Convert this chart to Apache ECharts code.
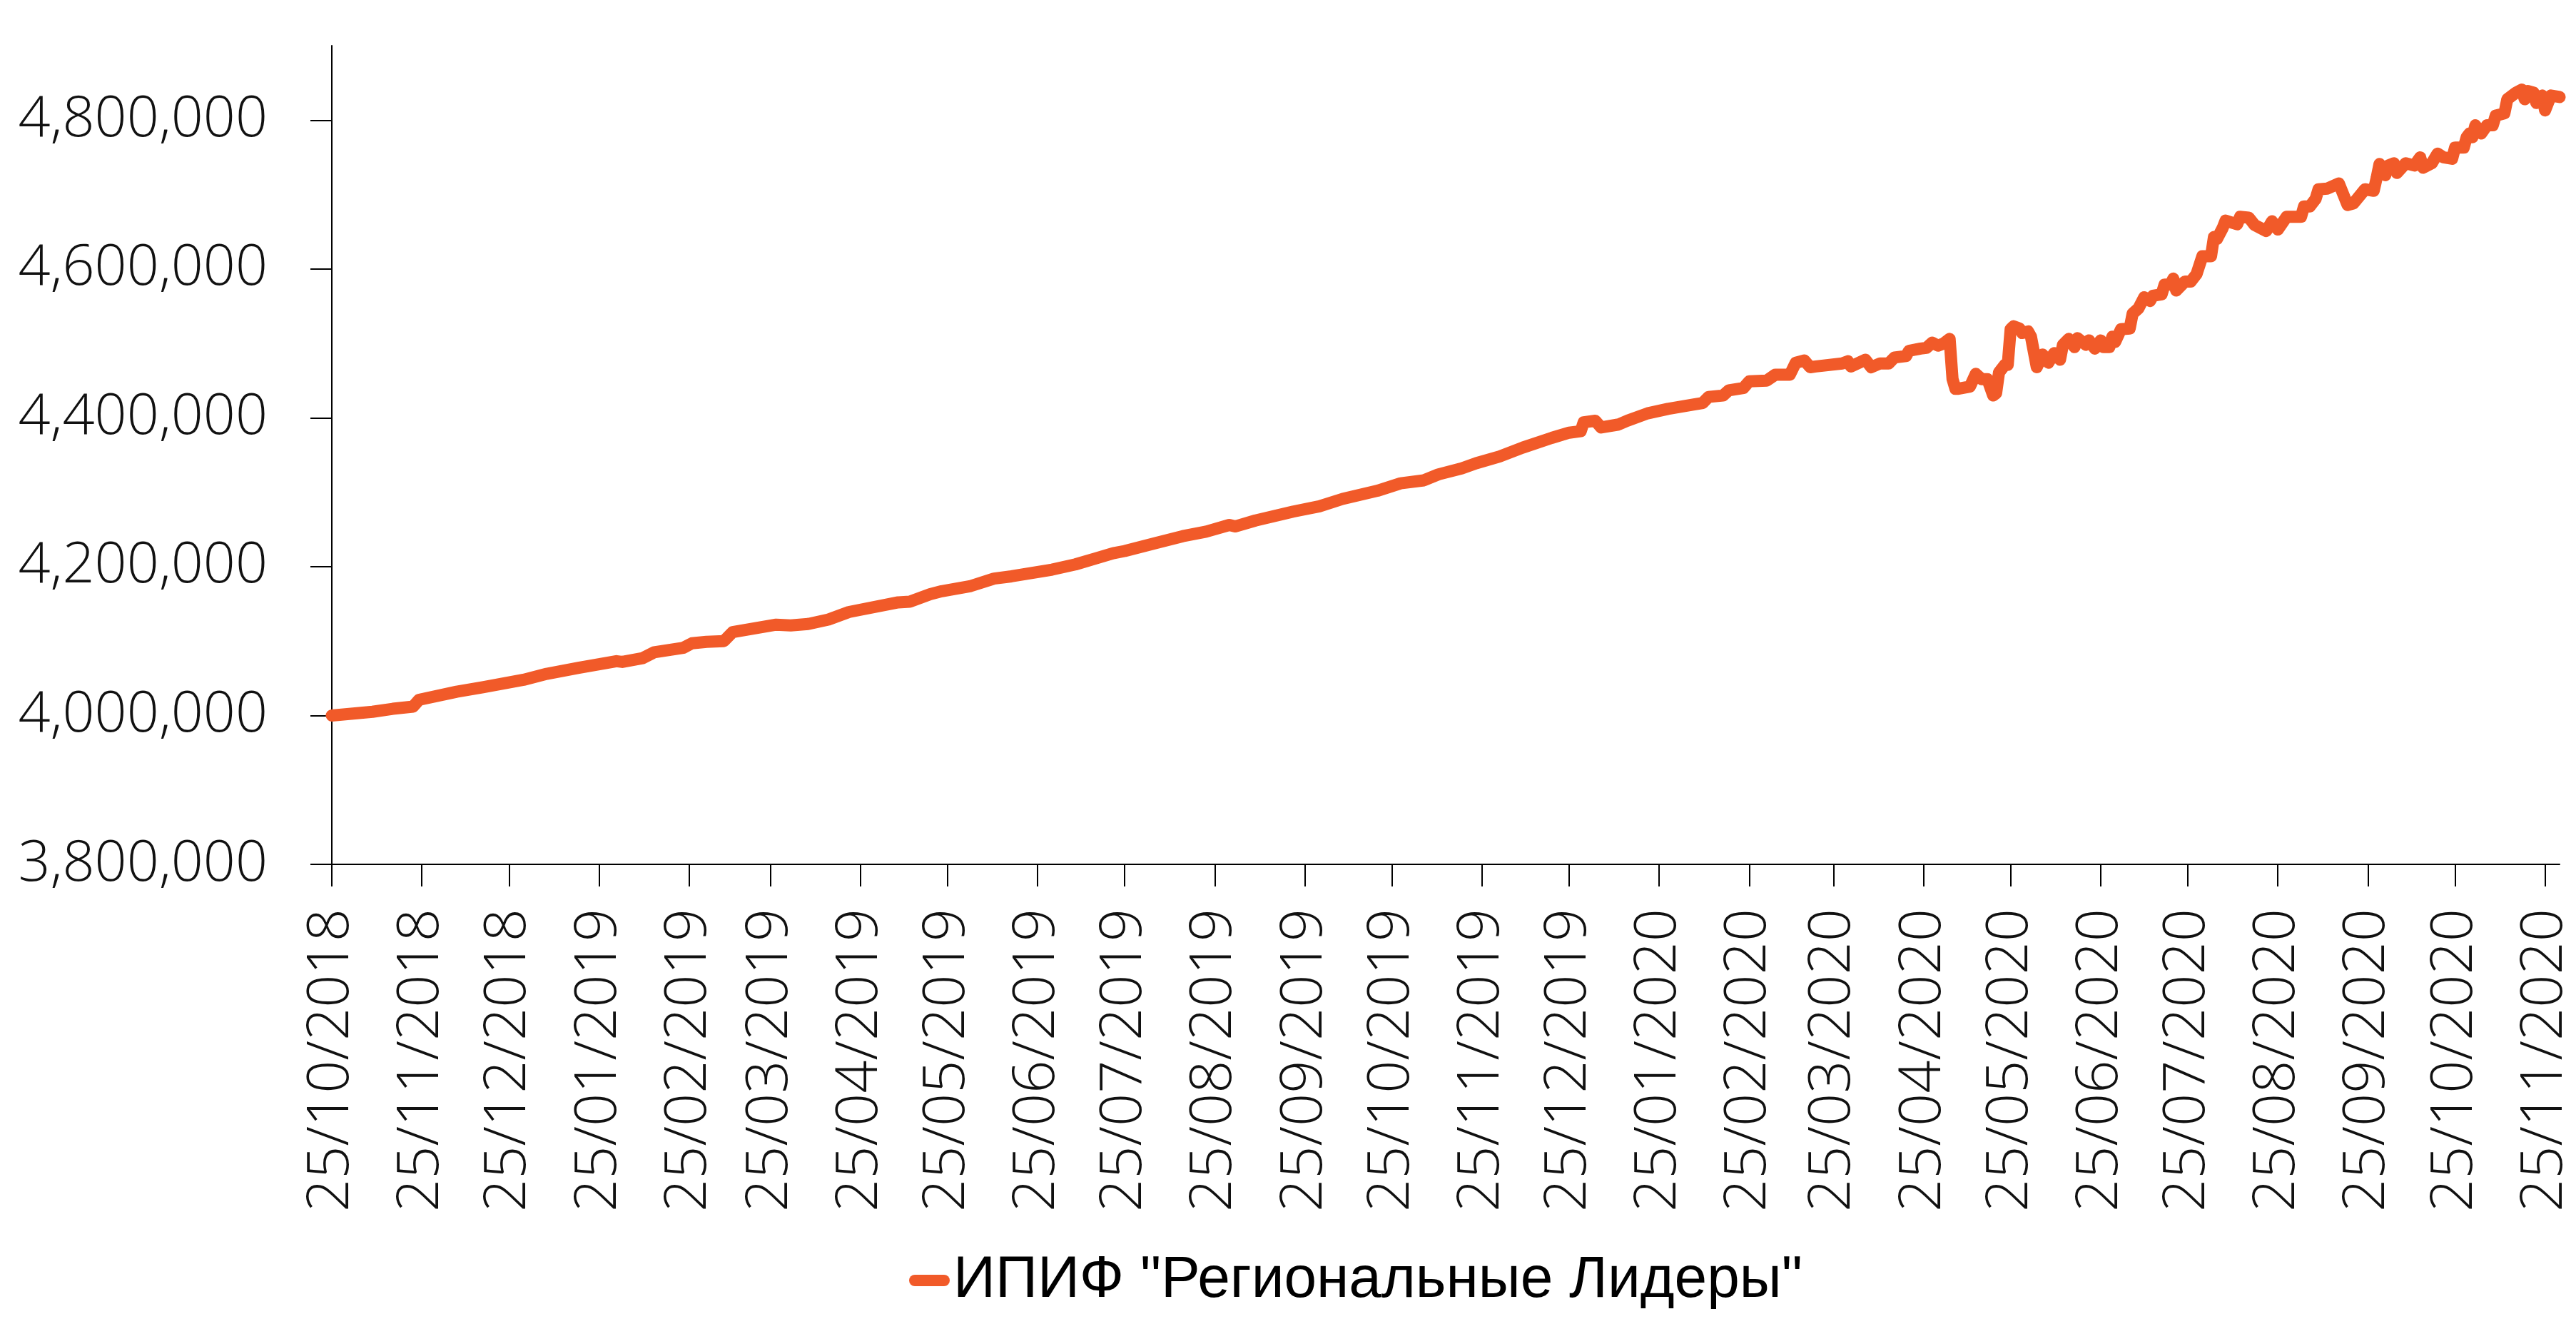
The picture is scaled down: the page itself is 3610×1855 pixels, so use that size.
<!DOCTYPE html>
<html>
<head>
<meta charset="utf-8">
<title>ИПИФ "Региональные Лидеры"</title>
<script src="https://cdn.jsdelivr.net/npm/echarts@6/dist/echarts.min.js"></script>
<style>
  html, body { margin: 0; padding: 0; background: #fff; }
  #chart { width: 3610px; height: 1855px; }
</style>
</head>
<body>
<div id="chart"></div>
<script>
const seriesName = 'ИПИФ "Региональные Лидеры"';

// monthly ticks on the date axis
const tickLabels = [
  '25/10/2018', '25/11/2018', '25/12/2018', '25/01/2019', '25/02/2019', '25/03/2019',
  '25/04/2019', '25/05/2019', '25/06/2019', '25/07/2019', '25/08/2019', '25/09/2019',
  '25/10/2019', '25/11/2019', '25/12/2019', '25/01/2020', '25/02/2020', '25/03/2020',
  '25/04/2020', '25/05/2020', '25/06/2020', '25/07/2020', '25/08/2020', '25/09/2020',
  '25/10/2020', '25/11/2020'
];
const yTicks = [3800000, 4000000, 4200000, 4400000, 4600000, 4800000];
const xStart = '2018-10-25';
const xEnd = '2020-11-30';

// values, one line per month
const navDates = [
  '2018-10-25',
  '2018-11-08', '2018-11-15', '2018-11-22', '2018-11-24',
  '2018-12-07', '2018-12-16', '2018-12-30',
  '2019-01-07', '2019-01-18', '2019-01-31',
  '2019-02-02', '2019-02-09', '2019-02-13', '2019-02-23', '2019-02-26',
  '2019-03-03', '2019-03-09', '2019-03-12', '2019-03-27',
  '2019-04-01', '2019-04-07', '2019-04-14', '2019-04-21',
  '2019-05-08', '2019-05-12', '2019-05-19', '2019-05-23',
  '2019-06-02', '2019-06-10', '2019-06-16', '2019-06-30',
  '2019-07-08', '2019-07-15', '2019-07-21', '2019-07-25',
  '2019-08-05', '2019-08-14', '2019-08-22', '2019-08-30',
  '2019-09-01', '2019-09-08', '2019-09-21', '2019-09-30',
  '2019-10-08', '2019-10-20', '2019-10-28',
  '2019-11-05', '2019-11-10', '2019-11-18', '2019-11-23',
  '2019-12-01', '2019-12-09', '2019-12-19', '2019-12-25', '2019-12-29', '2019-12-30',
  '2020-01-03', '2020-01-05', '2020-01-11', '2020-01-14', '2020-01-21', '2020-01-28',
  '2020-02-06', '2020-02-09', '2020-02-11', '2020-02-16', '2020-02-18', '2020-02-23', '2020-02-25',
  '2020-03-02', '2020-03-05', '2020-03-10', '2020-03-12', '2020-03-15', '2020-03-17', '2020-03-19', '2020-03-28', '2020-03-30', '2020-03-31',
  '2020-04-05', '2020-04-07', '2020-04-10', '2020-04-13', '2020-04-15', '2020-04-19', '2020-04-20', '2020-04-24', '2020-04-26', '2020-04-28', '2020-04-30',
  '2020-05-02', '2020-05-04', '2020-05-05', '2020-05-06', '2020-05-07', '2020-05-11', '2020-05-13', '2020-05-15', '2020-05-17', '2020-05-19', '2020-05-20', '2020-05-21', '2020-05-23', '2020-05-24', '2020-05-25', '2020-05-26', '2020-05-28', '2020-05-29', '2020-05-31',
  '2020-06-01', '2020-06-03', '2020-06-05', '2020-06-07', '2020-06-09', '2020-06-11', '2020-06-12', '2020-06-14', '2020-06-16', '2020-06-17', '2020-06-20', '2020-06-21', '2020-06-23', '2020-06-25', '2020-06-26', '2020-06-28', '2020-06-29', '2020-06-30',
  '2020-07-02', '2020-07-05', '2020-07-06', '2020-07-08', '2020-07-10', '2020-07-12', '2020-07-13', '2020-07-16', '2020-07-17', '2020-07-19', '2020-07-20', '2020-07-21', '2020-07-24', '2020-07-26', '2020-07-28', '2020-07-30',
  '2020-08-02', '2020-08-03', '2020-08-04', '2020-08-06', '2020-08-07', '2020-08-11', '2020-08-12', '2020-08-15', '2020-08-17', '2020-08-21', '2020-08-23', '2020-08-25', '2020-08-28',
  '2020-09-02', '2020-09-03', '2020-09-05', '2020-09-07', '2020-09-08', '2020-09-11', '2020-09-15', '2020-09-18', '2020-09-20', '2020-09-24', '2020-09-27', '2020-09-28', '2020-09-29',
  '2020-10-01', '2020-10-02', '2020-10-04', '2020-10-05', '2020-10-08', '2020-10-11', '2020-10-13', '2020-10-14', '2020-10-17', '2020-10-19', '2020-10-21', '2020-10-24', '2020-10-25', '2020-10-28', '2020-10-29', '2020-10-30', '2020-10-31',
  '2020-11-01', '2020-11-03', '2020-11-05', '2020-11-07', '2020-11-08', '2020-11-11', '2020-11-12', '2020-11-15', '2020-11-17', '2020-11-18', '2020-11-19', '2020-11-21', '2020-11-22', '2020-11-24', '2020-11-25', '2020-11-27', '2020-11-30'
];
const navValues = [
  4000000,
  4005000, 4009000, 4012000, 4021000,
  4032000, 4038000, 4048000,
  4056000, 4064000, 4073000,
  4072000, 4077000, 4085000, 4091000, 4097000,
  4099000, 4100000, 4112000, 4122000,
  4121000, 4123000, 4129000, 4139000,
  4152000, 4153000, 4163000, 4167000,
  4174000, 4184000, 4187000, 4196000,
  4203000, 4211000, 4218000, 4221000,
  4232000, 4241000, 4247000, 4256000,
  4254000, 4262000, 4274000, 4281000,
  4291000, 4302000, 4312000,
  4316000, 4324000, 4332000, 4339000,
  4348000, 4360000, 4373000, 4380000, 4382000, 4394000,
  4396000, 4387000, 4391000, 4396000, 4406000, 4412000,
  4418000, 4420000, 4428000, 4430000, 4437000, 4440000, 4449000,
  4450000, 4458000, 4458000, 4474000, 4477000, 4468000, 4469000, 4473000, 4476000, 4469000,
  4478000, 4468000, 4473000, 4473000, 4481000, 4483000, 4490000, 4493000, 4494000, 4501000, 4497000,
  4500000, 4506000, 4452000, 4439000, 4439000, 4442000, 4459000, 4452000, 4452000, 4430000, 4433000, 4461000, 4471000, 4471000, 4519000, 4523000, 4520000, 4514000, 4516000,
  4509000, 4468000, 4485000, 4474000, 4487000, 4478000, 4498000, 4506000, 4495000, 4507000, 4498000, 4504000, 4493000, 4504000, 4495000, 4495000, 4509000, 4502000,
  4519000, 4520000, 4540000, 4547000, 4562000, 4557000, 4564000, 4566000, 4579000, 4579000, 4587000, 4571000, 4583000, 4583000, 4593000, 4617000,
  4617000, 4643000, 4640000, 4655000, 4665000, 4660000, 4670000, 4669000, 4659000, 4651000, 4664000, 4653000, 4670000,
  4670000, 4684000, 4684000, 4694000, 4707000, 4708000, 4715000, 4686000, 4688000, 4707000, 4705000, 4722000, 4741000,
  4726000, 4739000, 4742000, 4729000, 4742000, 4739000, 4750000, 4736000, 4742000, 4755000, 4750000, 4748000, 4763000, 4763000, 4777000, 4782000, 4777000,
  4793000, 4782000, 4793000, 4793000, 4806000, 4809000, 4828000, 4837000, 4841000, 4828000, 4839000, 4837000, 4823000, 4833000, 4813000, 4833000, 4831000
];

if (navDates.length !== navValues.length) {
  console.warn('dates/values length mismatch', navDates.length, navValues.length);
}

// local-time parsing so tick positions don't depend on timezone
function isoTime(s) {
  const p = s.split('-');
  return new Date(+p[0], +p[1] - 1, +p[2]).getTime();
}
function labelTime(s) {
  const p = s.split('/');
  return new Date(+p[2], +p[1] - 1, +p[0]).getTime();
}
function pad(n) {
  return n < 10 ? '0' + n : '' + n;
}

const tickTimes = tickLabels.map(labelTime);
const lineData = navDates.map((d, i) => [isoTime(d), navValues[i]]);

const lineColor = '#F15A29';
const axisColor = '#000';
const labelFont = '"Open Sans", "Noto Sans", sans-serif';

const chart = echarts.init(document.getElementById('chart'));

const option = {
  animation: false,
  backgroundColor: '#fff',
  grid: {
    left: 465,
    right: 23,
    top: 64,
    bottom: 644,
    containLabel: false,
    outerBoundsMode: 'none'
  },
  // dates as timestamps on a value axis, ticks on the 25th of each month
  xAxis: {
    type: 'value',
    min: isoTime(xStart),
    max: isoTime(xEnd),
    splitLine: { show: false },
    axisLine: { lineStyle: { color: axisColor, width: 2 } },
    axisTick: {
      show: true,
      length: 31,
      customValues: tickTimes,
      lineStyle: { color: axisColor, width: 2 }
    },
    axisLabel: {
      customValues: tickTimes,
      rotate: 90,
      margin: 62,
      color: '#111',
      fontSize: 81,
      fontWeight: 300,
      fontFamily: labelFont,
      formatter: function (val) {
        const d = new Date(val);
        return pad(d.getDate()) + '/' + pad(d.getMonth() + 1) + '/' + d.getFullYear();
      }
    }
  },
  yAxis: {
    type: 'value',
    min: 3800000,
    max: 4900000,
    interval: 200000,
    splitLine: { show: false },
    axisLine: { show: true, lineStyle: { color: axisColor, width: 2 } },
    axisTick: {
      show: true,
      length: 30,
      customValues: yTicks,
      lineStyle: { color: axisColor, width: 2 }
    },
    axisLabel: {
      customValues: yTicks,
      margin: 90,
      color: '#111',
      fontSize: 79,
      fontWeight: 300,
      fontFamily: labelFont,
      formatter: function (val) {
        return Number(val).toLocaleString('en-US');
      }
    }
  },
  legend: {
    left: 1269,
    top: 1748,
    icon: 'path://M8,0 L49,0 A8,8 0 0 1 49,16 L8,16 A8,8 0 0 1 8,0 Z',
    itemWidth: 57,
    itemHeight: 16,
    textStyle: {
      color: '#000',
      fontSize: 82,
      fontFamily: '"Liberation Sans", Arial, sans-serif'
    },
    data: [seriesName]
  },
  series: [{
    name: seriesName,
    type: 'line',
    data: lineData,
    showSymbol: false,
    symbol: 'none',
    smooth: false,
    itemStyle: { color: lineColor },
    lineStyle: {
      color: lineColor,
      width: 17,
      cap: 'round',
      join: 'round'
    }
  }]
};

chart.setOption(option);
</script>
</body>
</html>
